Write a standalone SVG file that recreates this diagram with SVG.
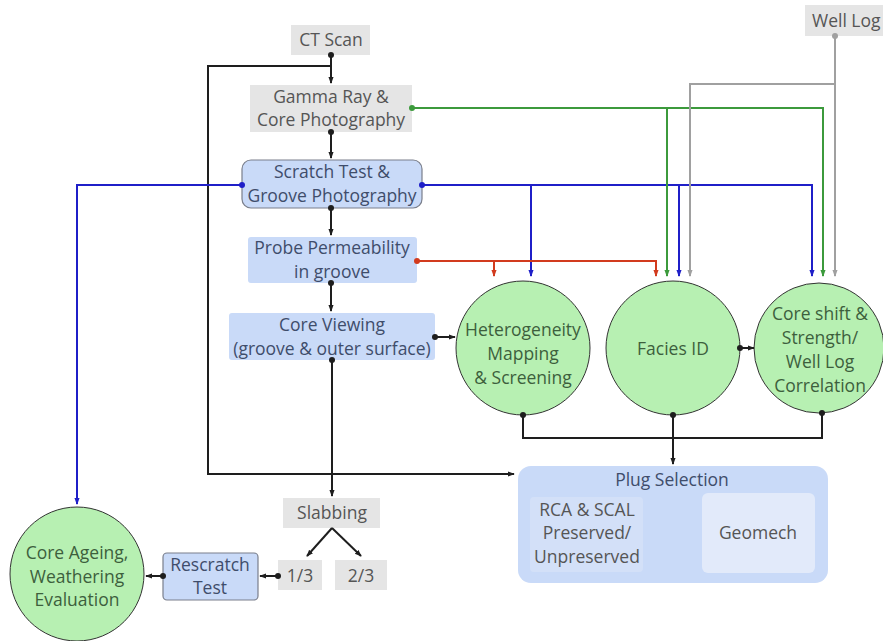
<svg xmlns="http://www.w3.org/2000/svg" width="883" height="641" viewBox="0 0 883 641">
<style>
text{font-family:"Open Sans","Noto Sans","DejaVu Sans",sans-serif;font-size:17.5px;text-anchor:middle}
.gray rect{fill:#e5e5e5}
.gt{fill:#555}
.bt{fill:#3f4d6b}
.ct{fill:#3d5f3d}
.blue rect{fill:#c9daf8}
.circ{fill:#b7f0b2;stroke:#333;stroke-width:1}
.k{fill:none;stroke:#1e1e1e;stroke-width:2}
.b{fill:none;stroke:#1f1fc8;stroke-width:2}
.r{fill:none;stroke:#d23b1e;stroke-width:2}
.g{fill:none;stroke:#3c9a3c;stroke-width:2}
.y{fill:none;stroke:#a0a0a0;stroke-width:2}
</style>
<defs>
<marker id="ak" viewBox="0 0 8 8" refX="7" refY="4" markerWidth="7" markerHeight="7" markerUnits="userSpaceOnUse" orient="auto"><path d="M0,1 L8,4 L0,7 Z" fill="#1e1e1e"/></marker>
<marker id="dk" viewBox="0 0 6 6" refX="3" refY="3" markerWidth="6" markerHeight="6" markerUnits="userSpaceOnUse"><circle cx="3" cy="3" r="3" fill="#1e1e1e"/></marker>
<marker id="ab" viewBox="0 0 8 8" refX="7" refY="4" markerWidth="7" markerHeight="7" markerUnits="userSpaceOnUse" orient="auto"><path d="M0,1 L8,4 L0,7 Z" fill="#1f1fc8"/></marker>
<marker id="db" viewBox="0 0 6 6" refX="3" refY="3" markerWidth="6" markerHeight="6" markerUnits="userSpaceOnUse"><circle cx="3" cy="3" r="3" fill="#1f1fc8"/></marker>
<marker id="ar" viewBox="0 0 8 8" refX="7" refY="4" markerWidth="7" markerHeight="7" markerUnits="userSpaceOnUse" orient="auto"><path d="M0,1 L8,4 L0,7 Z" fill="#d23b1e"/></marker>
<marker id="dr" viewBox="0 0 6 6" refX="3" refY="3" markerWidth="6" markerHeight="6" markerUnits="userSpaceOnUse"><circle cx="3" cy="3" r="3" fill="#d23b1e"/></marker>
<marker id="ag" viewBox="0 0 8 8" refX="7" refY="4" markerWidth="7" markerHeight="7" markerUnits="userSpaceOnUse" orient="auto"><path d="M0,1 L8,4 L0,7 Z" fill="#3c9a3c"/></marker>
<marker id="dg" viewBox="0 0 6 6" refX="3" refY="3" markerWidth="6" markerHeight="6" markerUnits="userSpaceOnUse"><circle cx="3" cy="3" r="3" fill="#3c9a3c"/></marker>
<marker id="ay" viewBox="0 0 8 8" refX="7" refY="4" markerWidth="7" markerHeight="7" markerUnits="userSpaceOnUse" orient="auto"><path d="M0,1 L8,4 L0,7 Z" fill="#a0a0a0"/></marker>
<marker id="dy" viewBox="0 0 6 6" refX="3" refY="3" markerWidth="6" markerHeight="6" markerUnits="userSpaceOnUse"><circle cx="3" cy="3" r="3" fill="#a0a0a0"/></marker>
</defs>
<rect width="883" height="641" fill="#ffffff"/>

<g id="ct-scan" class="gray"><rect x="291" y="25" width="79" height="30"/><text class="gt" x="331" y="46">CT Scan</text></g>
<g id="well-log" class="gray"><rect x="805" y="5" width="78" height="31"/><text class="gt" x="812" y="27" style="text-anchor:start">Well Log</text></g>
<g id="gamma-ray" class="gray"><rect x="250" y="85" width="162" height="47"/><text class="gt" x="331" y="103">Gamma Ray &amp;</text><text class="gt" x="331" y="126">Core Photography</text></g>
<g id="scratch-test" class="blue"><rect x="242" y="160" width="180" height="48" rx="9" style="stroke:#7a7f8c;stroke-width:1.2"/><text class="bt" x="332" y="178">Scratch Test &amp;</text><text class="bt" x="332" y="202">Groove Photography</text></g>
<g id="probe-perm" class="blue"><rect x="248" y="237" width="169" height="46" rx="3"/><text class="bt" x="332" y="254">Probe Permeability</text><text class="bt" x="332" y="278">in groove</text></g>
<g id="core-viewing" class="blue"><rect x="229" y="313" width="206" height="47" rx="3"/><text class="bt" x="332" y="331">Core Viewing</text><text class="bt" x="332" y="355">(groove &amp; outer surface)</text></g>
<g id="heterogeneity"><circle class="circ" cx="523" cy="348" r="67"/><text class="ct" x="523" y="336">Heterogeneity</text><text class="ct" x="523" y="360">Mapping</text><text class="ct" x="523" y="384">&amp; Screening</text></g>
<g id="facies-id"><circle class="circ" cx="673" cy="348" r="67"/><text class="ct" x="673" y="355">Facies ID</text></g>
<g id="core-shift"><circle class="circ" cx="819" cy="348" r="65"/><text class="ct" x="820" y="320">Core shift &amp;</text><text class="ct" x="820" y="344">Strength/</text><text class="ct" x="820" y="368">Well Log</text><text class="ct" x="820" y="392">Correlation</text></g>
<g id="plug-selection"><rect x="518" y="466" width="310" height="117" rx="13" fill="#c9daf8"/><text class="bt" x="672" y="486">Plug Selection</text></g>
<g id="rca-scal"><rect x="530" y="497" width="113" height="75" rx="4" fill="#d3e0f8"/><text class="gt" x="587" y="516">RCA &amp; SCAL</text><text class="gt" x="587" y="539">Preserved/</text><text class="gt" x="587" y="563">Unpreserved</text></g>
<g id="geomech"><rect x="702" y="493" width="113" height="80" rx="6" fill="#e2eafa"/><text class="gt" x="758" y="539">Geomech</text></g>
<g id="slabbing" class="gray"><rect x="283" y="498" width="97" height="30"/><text class="gt" x="332" y="519">Slabbing</text></g>
<g id="one-third" class="gray"><rect x="278" y="560" width="44" height="30"/><text class="gt" x="300" y="582">1/3</text></g>
<g id="two-third" class="gray"><rect x="335" y="560" width="52" height="30"/><text class="gt" x="361" y="582">2/3</text></g>
<g id="rescratch" class="blue"><rect x="163" y="553" width="95" height="47" rx="4" style="stroke:#7a7f8c;stroke-width:1.2"/><text class="bt" x="210" y="571">Rescratch</text><text class="bt" x="210" y="594">Test</text></g>
<g id="core-ageing"><circle class="circ" cx="77" cy="574" r="67"/><text class="ct" x="77" y="559">Core Ageing,</text><text class="ct" x="77" y="583">Weathering</text><text class="ct" x="77" y="606">Evaluation</text></g>

<g id="connectors">
<path class="k" d="M331,55 V83" marker-start="url(#dk)" marker-end="url(#ak)"/>
<path class="k" d="M331,66 H208 V474 H514" marker-end="url(#ak)"/>
<path class="k" d="M331,132 V158" marker-start="url(#dk)" marker-end="url(#ak)"/>
<path class="k" d="M331,208 V235" marker-start="url(#dk)" marker-end="url(#ak)"/>
<path class="k" d="M331,283 V311" marker-start="url(#dk)" marker-end="url(#ak)"/>
<path class="k" d="M435,337 H455" marker-start="url(#dk)" marker-end="url(#ak)"/>
<path class="k" d="M332,360 V496" marker-start="url(#dk)" marker-end="url(#ak)"/>
<path class="k" d="M332,528 L307,556" marker-end="url(#ak)"/>
<path class="k" d="M332,528 L361,556" marker-end="url(#ak)"/>
<path class="k" d="M278,576 H260" marker-start="url(#dk)" marker-end="url(#ak)"/>
<path class="k" d="M163,576 H146" marker-start="url(#dk)" marker-end="url(#ak)"/>
<path class="k" d="M740,348 H754" marker-start="url(#dk)" marker-end="url(#ak)"/>
<path class="k" d="M523,415 V438 H822 V413" marker-start="url(#dk)" marker-end="url(#dk)"/>
<path class="k" d="M673,415 V464" marker-start="url(#dk)" marker-end="url(#ak)"/>
<path class="b" d="M242,185 H77 V504" marker-start="url(#db)" marker-end="url(#ab)"/>
<path class="b" d="M422,185 H812 V276" marker-start="url(#db)" marker-end="url(#ab)"/>
<path class="b" d="M531,185 V276" marker-end="url(#ab)"/>
<path class="b" d="M679,185 V276" marker-end="url(#ab)"/>
<path class="g" d="M412,108 H823 V276" marker-start="url(#dg)" marker-end="url(#ag)"/>
<path class="g" d="M667,108 V276" marker-end="url(#ag)"/>
<path class="y" d="M835,36 V276" marker-start="url(#dy)" marker-end="url(#ay)"/>
<path class="y" d="M835,84 H690 V276" marker-end="url(#ay)"/>
<path class="r" d="M417,261 H656 V276" marker-start="url(#dr)" marker-end="url(#ar)"/>
<path class="r" d="M494,261 V276" marker-end="url(#ar)"/>
</g>
</svg>
